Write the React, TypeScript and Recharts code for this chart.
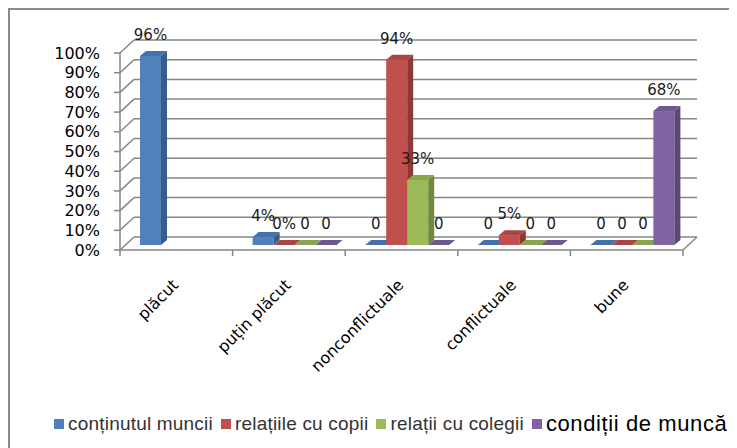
import React from "react";
import { Bar, BarChart, CartesianGrid, LabelList, XAxis, YAxis } from "recharts";

const categories = ["plăcut", "puțin plăcut", "nonconflictuale", "conflictuale", "bune"];

const continutulMuncii = [0.96, 0.04, 0, 0, 0];
const relatiileCuCopii = [null, 0, 0.94, 0.05, 0];
const relatiiCuColegii = [null, 0, 0.33, 0, 0];
const conditiiDeMunca = [null, 0, 0, 0, 0.68];

const continutulLabels = ["96%", "4%", "0", "0", "0"];
const copiiLabels = [null, "0%", "94%", "5%", "0"];
const colegiiLabels = [null, "0", "33%", "0", "0"];
const conditiiLabels = [null, "0", "0", "0", "68%"];

const yTicks = [0, 0.1, 0.2, 0.3, 0.4, 0.5, 0.6, 0.7, 0.8, 0.9, 1];

const series = [
  { key: "continut", name: "conținutul muncii", values: continutulMuncii, labels: continutulLabels, front: "#4F81BD", side: "#385D8A", top: "#4372AA" },
  { key: "copii", name: "relațiile cu copii", values: relatiileCuCopii, labels: copiiLabels, front: "#C0504D", side: "#8C3836", top: "#A94643" },
  { key: "colegii", name: "relații cu colegii", values: relatiiCuColegii, labels: colegiiLabels, front: "#9BBB59", side: "#71893F", top: "#89A54E" },
  { key: "conditii", name: "condiții de muncă", values: conditiiDeMunca, labels: conditiiLabels, front: "#8064A2", side: "#5C4776", top: "#70588E" },
];

const data = categories.map((name, i) => {
  const row: Record<string, any> = { name };
  series.forEach((s) => {
    row[s.key] = s.values[i];
    row[s.key + "Label"] = s.labels[i];
  });
  return row;
});

// 3d look: bars sit halfway into the floor, back wall sits a full depth back
const SHIFT_X = 6;
const SHIFT_Y = -5;
const DEPTH_X = 6;
const DEPTH_Y = -5;
const WALL_X = 14;
const WALL_Y = -13;
const AXIS = "#868686";
const FONT = "'DejaVu Sans', sans-serif";

function makeShape(s: (typeof series)[number]) {
  return (props: any) => {
    const { x, y, width, height, payload } = props;
    if (payload == null || payload[s.key] == null) return null;
    const fx = x + SHIFT_X;
    const fy = y + SHIFT_Y;
    const h = Math.max(height, 0);
    const topFace = `${fx},${fy} ${fx + width},${fy} ${fx + width + DEPTH_X},${fy + DEPTH_Y} ${fx + DEPTH_X},${fy + DEPTH_Y}`;
    if (h < 0.5) {
      return <polygon points={topFace} fill={s.top} />;
    }
    const sideFace = `${fx + width},${fy} ${fx + width + DEPTH_X},${fy + DEPTH_Y} ${fx + width + DEPTH_X},${fy + h + DEPTH_Y} ${fx + width},${fy + h}`;
    return (
      <g>
        <rect x={fx} y={fy} width={width} height={h} fill={s.front} />
        <polygon points={sideFace} fill={s.side} />
        <polygon points={topFace} fill={s.top} />
      </g>
    );
  };
}

function BarLabel(props: any) {
  const { x, y, width, value } = props;
  if (value == null) return null;
  return (
    <text x={x + SHIFT_X + width / 2} y={y + SHIFT_Y - 16} textAnchor="middle" fontSize={15} fontFamily={FONT} fill="#1a1a1a">
      {value}
    </text>
  );
}

function GridLine(props: any) {
  const { x1, x2, y1, index } = props;
  return (
    <g>
      <line x1={x1} y1={y1} x2={x1 + WALL_X} y2={y1 + WALL_Y} stroke={AXIS} strokeWidth={1.5} />
      <line x1={x1 + WALL_X} y1={y1 + WALL_Y} x2={x2 + WALL_X} y2={y1 + WALL_Y} stroke={AXIS} strokeWidth={1.5} />
      {index === 0 ? <line x1={x2} y1={y1} x2={x2 + WALL_X} y2={y1 + WALL_Y} stroke={AXIS} strokeWidth={1.5} /> : null}
    </g>
  );
}

function CategoryTick(props: any) {
  const { x, y, payload, index, visibleTicksCount } = props;
  const half = payload.offset ?? 56;
  const ax = x + 3;
  const ay = y + 36;
  return (
    <g>
      <line x1={x - half} y1={y} x2={x - half} y2={y + 6} stroke={AXIS} strokeWidth={1.5} />
      {index === visibleTicksCount - 1 ? (
        <line x1={x + half} y1={y} x2={x + half} y2={y + 6} stroke={AXIS} strokeWidth={1.5} />
      ) : null}
      <text x={ax} y={ay} transform={`rotate(-45, ${ax}, ${ay})`} textAnchor="end" fontSize={16} fontFamily={FONT} fill="#000">
        {payload.value}
      </text>
    </g>
  );
}

export default function App() {
  return (
    <div style={{ position: "relative", width: 729, height: 440, overflow: "hidden" }}>
      <div
        style={{
          position: "absolute",
          left: 0,
          top: 0,
          width: 729,
          height: 440,
          boxSizing: "border-box",
          borderLeft: "2px solid #8a8a8a",
          borderTop: "2px solid #8a8a8a",
        }}
      />
      <div style={{ position: "absolute", left: 0, top: 0 }}>
        <BarChart
          width={729}
          height={440}
          data={data}
          margin={{ top: 45, right: 54, bottom: 98, left: 0 }}
          barGap={0}
          barSize={21}
        >
          <CartesianGrid vertical={false} horizontal={(p: any) => <GridLine {...p} />} />
          <XAxis
            dataKey="name"
            height={100}
            tickSize={0}
            tickMargin={0}
            tickLine={false}
            axisLine={{ stroke: AXIS, strokeWidth: 1.5 }}
            interval={0}
            tick={(p: any) => <CategoryTick {...p} />}
          />
          <YAxis
            width={112}
            domain={[0, 1]}
            ticks={yTicks}
            interval={0}
            tickFormatter={(v: number) => `${Math.round(v * 100)}%`}
            tick={{ fill: "#000", fontSize: 16, fontFamily: FONT }}
            tickSize={6}
            tickMargin={14}
            tickLine={{ stroke: AXIS, strokeWidth: 1.5 }}
            axisLine={{ stroke: AXIS, strokeWidth: 1.5 }}
          />
          {series.map((s) => (
            <Bar key={s.key} dataKey={s.key} name={s.name} isAnimationActive={false} shape={makeShape(s)}>
              <LabelList dataKey={s.key + "Label"} content={(p: any) => <BarLabel {...p} />} />
            </Bar>
          ))}
        </BarChart>
      </div>
      <div
        style={{
          position: "absolute",
          left: 46,
          top: 403,
          display: "flex",
          alignItems: "center",
          fontFamily: "'Liberation Sans', Arial, sans-serif",
          fontSize: 19,
          letterSpacing: 0.2,
          color: "#333",
          whiteSpace: "nowrap",
        }}
      >
        {series.map((s, i) => (
          <span key={s.key} style={{ display: "flex", alignItems: "center", marginRight: 8 }}>
            <span style={{ display: "inline-block", width: 10, height: 10, background: s.front, marginRight: 4 }} />
            <span style={i === series.length - 1 ? { color: "#000", fontSize: 22, letterSpacing: 0.6 } : undefined}>{s.name}</span>
          </span>
        ))}
      </div>
    </div>
  );
}
